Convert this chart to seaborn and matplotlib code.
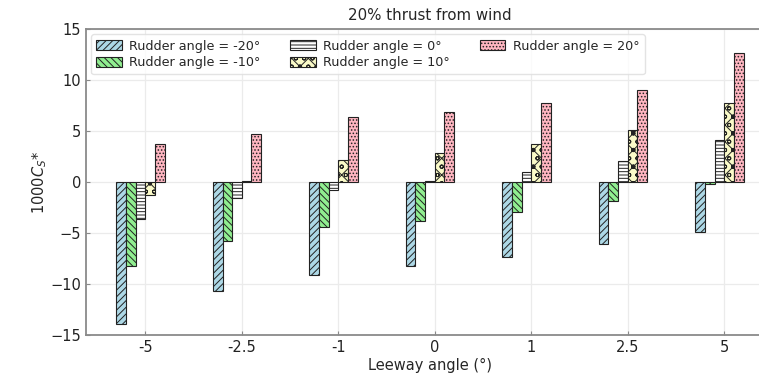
import numpy as np
import pandas as pd
import matplotlib
matplotlib.use("Agg")
import matplotlib.pyplot as plt
import seaborn as sns

leeway = ["-5", "-2.5", "-1", "0", "1", "2.5", "5"]
rudder_labels = ["Rudder angle = -20°", "Rudder angle = -10°", "Rudder angle = 0°",
                 "Rudder angle = 10°", "Rudder angle = 20°"]
r_m20 = [-13.9, -10.7, -9.15, -8.2, -7.35, -6.1, -4.85]
r_m10 = [-8.2, -5.8, -4.4, -3.8, -2.95, -1.8, -0.2]
r_0 = [-3.6, -1.6, -0.75, 0.1, 1.0, 2.1, 4.1]
r_10 = [-1.3, 0.1, 2.2, 2.9, 3.75, 5.1, 7.8]
r_20 = [3.75, 4.7, 6.35, 6.9, 7.75, 9.0, 12.7]

series = [r_m20, r_m10, r_0, r_10, r_20]
colors = ["#add8e6", "#90ee90", "#ffffff", "#fafac8", "#ffb6c1"]
hatches = ["/////", "\\\\\\\\\\", "-----", "xxoo", "....."]

rows = []
for lab, vals in zip(rudder_labels, series):
    for x, v in zip(leeway, vals):
        rows.append({"leeway": x, "rudder": lab, "val": v})
df = pd.DataFrame(rows)

sns.set_style("whitegrid")
plt.rcParams["font.family"] = ["DejaVu Sans"]
plt.rcParams["hatch.linewidth"] = 0.7

fig = plt.figure(figsize=(7.59, 3.76), dpi=100)
ax = fig.add_axes([0.1133, 0.109, 0.907, 0.813])

sns.barplot(data=df, x="leeway", y="val", hue="rudder", order=leeway,
            hue_order=rudder_labels, palette=dict(zip(rudder_labels, colors)),
            width=0.5, edgecolor="#222222", linewidth=0.8, saturation=1,
            errorbar=None, ax=ax, legend=False, zorder=3)

for cont, h in zip(ax.containers, hatches):
    for p in cont.patches:
        p.set_hatch(h)
        p.set_x(p.get_x() - 0.05)

ax.set_xlim(-0.615, 6.52)
ax.set_ylim(-15, 15)
ax.set_yticks([-15, -10, -5, 0, 5, 10, 15])
ax.grid(True, color="#ebebeb", linewidth=0.9, zorder=0)
ax.set_axisbelow(True)
for s in ax.spines.values():
    s.set_color("#8a8a8a")
    s.set_linewidth(1.3)
ax.tick_params(direction="in", length=3, color="#8a8a8a", labelsize=10.5,
               left=True, bottom=True, labelcolor="#222222")

ax.set_title("20% thrust from wind", fontsize=10.8, pad=7)
ax.set_xlabel("Leeway angle (°)", fontsize=10.5, labelpad=2)
ax.set_ylabel("1000$C_S$*", fontsize=10.5, labelpad=1)

ax.legend(ax.containers, rudder_labels, ncol=3, loc="upper left",
          fontsize=9.2, frameon=True, framealpha=0.8, edgecolor="#dddddd",
          handlelength=2.0, handleheight=0.8, columnspacing=2.3,
          handletextpad=0.6, borderaxespad=0.4, labelspacing=0.3)

fig.savefig("out.png", dpi=100)
